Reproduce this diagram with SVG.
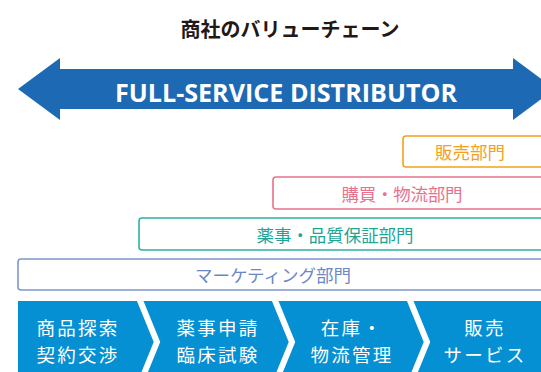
<svg xmlns="http://www.w3.org/2000/svg" width="541" height="372" viewBox="0 0 541 372">
<style>
.jp{font-family:"Noto Sans CJK JP","Noto Sans",sans-serif;}
.title{font-size:20px;font-weight:bold;fill:#231815;}
.dept{font-size:17.5px;text-anchor:middle;}
.box{fill:#fff;stroke-width:1.6;}
.step{font-size:18.5px;fill:#fff;text-anchor:middle;letter-spacing:2.3px;}
.sep{fill:none;stroke:#fff;stroke-width:6;}
</style>
<rect width="541" height="372" fill="#fff"/>
<g id="title"><text class="jp title" x="290" y="37" text-anchor="middle">商社のバリューチェーン</text></g>
<g id="arrow">
<polygon points="18,89 60,58 60,69 513,69 513,58 555,89 513,120 513,109 60,109 60,120" fill="#1E69B3"/>
<text x="286" y="102" font-family="'Open Sans',sans-serif" font-weight="bold" font-size="25" fill="#fff" text-anchor="middle" textLength="342" lengthAdjust="spacingAndGlyphs">FULL-SERVICE DISTRIBUTOR</text>
</g>
<g id="sales-dept">
<rect class="box" x="403" y="136" width="141" height="31" rx="3" stroke="#F3A01D"/>
<text class="jp dept" x="470" y="159" fill="#F3A01D">販売部門</text>
</g>
<g id="purchase-dept">
<rect class="box" x="273" y="177" width="271" height="32" rx="3" stroke="#E8718D"/>
<text class="jp dept" x="402" y="201" fill="#E8718D" textLength="121" lengthAdjust="spacing">購買・物流部門</text>
</g>
<g id="regulatory-dept">
<rect class="box" x="139" y="218" width="405" height="32" rx="3" stroke="#2BB2A2"/>
<text class="jp dept" x="335" y="242" fill="#1FA595" textLength="157" lengthAdjust="spacing">薬事・品質保証部門</text>
</g>
<g id="marketing-dept">
<rect class="box" x="18" y="259" width="526" height="31" rx="3" stroke="#7D97CC"/>
<text class="jp dept" x="273" y="282" fill="#6C87C4">マーケティング部門</text>
</g>
<g id="value-chain">
<rect x="18" y="301" width="530" height="75" fill="#0490D3"/>
<text class="jp step" x="78" y="335">商品探索</text>
<text class="jp step" x="78" y="362">契約交渉</text>
<text class="jp step" x="218" y="335">薬事申請</text>
<text class="jp step" x="218" y="362">臨床試験</text>
<text class="jp step" x="352" y="335">在庫・</text>
<text class="jp step" x="352" y="362">物流管理</text>
<text class="jp step" x="485" y="335">販売</text>
<text class="jp step" x="485" y="362">サービス</text>
</g>
<g id="connectors">
<polyline class="sep" points="139,298 157,342 139,386"/>
<polyline class="sep" points="274,298 292,342 274,386"/>
<polyline class="sep" points="409,298 427,342 409,386"/>
</g>
</svg>
